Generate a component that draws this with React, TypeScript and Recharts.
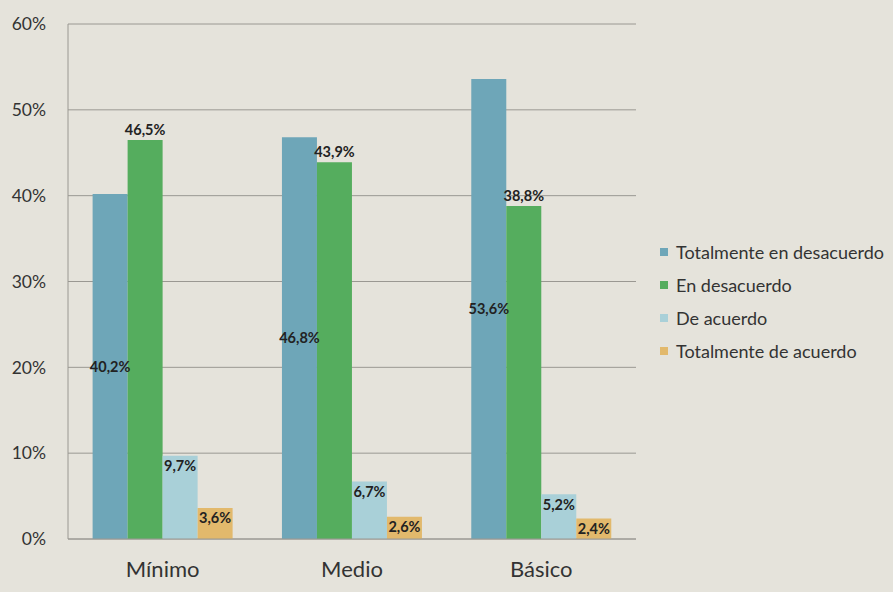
import { BarChart, Bar, XAxis, YAxis, CartesianGrid, LabelList } from "recharts";

const categories = ["Mínimo", "Medio", "Básico"];
const totalDesacuerdo = [40.2, 46.8, 53.6];
const enDesacuerdo = [46.5, 43.9, 38.8];
const deAcuerdo = [9.7, 6.7, 5.2];
const totalAcuerdo = [3.6, 2.6, 2.4];
const yTicks = [0, 10, 20, 30, 40, 50, 60];

const series = [
  { key: "td", name: "Totalmente en desacuerdo", color: "#6ea6b8", pos: "center" },
  { key: "ed", name: "En desacuerdo", color: "#55ad5e", pos: "top" },
  { key: "da", name: "De acuerdo", color: "#a9d0d8", pos: "insideTop" },
  { key: "ta", name: "Totalmente de acuerdo", color: "#e2b96c", pos: "insideTop" },
];

const data = categories.map((name, i) => ({
  name,
  td: totalDesacuerdo[i],
  ed: enDesacuerdo[i],
  da: deAcuerdo[i],
  ta: totalAcuerdo[i],
}));

const fmt = (v: number) => v.toFixed(1).replace(".", ",") + "%";

// legend drawn outside the chart so it doesn't eat plot space
function LegendBox() {
  return (
    <div
      style={{
        position: "absolute",
        left: 660,
        top: 235,
        fontFamily: "Lato, sans-serif",
        fontSize: 18,
        color: "#333",
      }}
    >
      {series.map((s) => (
        <div key={s.key} style={{ display: "flex", alignItems: "center", height: 33 }}>
          <span style={{ width: 8, height: 8, background: s.color, marginRight: 8 }} />
          {s.name}
        </div>
      ))}
    </div>
  );
}

export default function App() {
  return (
    <div style={{ position: "absolute", left: 0, top: 0, width: 893, height: 592, background: "#e5e3db" }}>
      <BarChart
        width={893}
        height={592}
        data={data}
        margin={{ top: 24, right: 257, left: 0, bottom: 0 }}
        barCategoryGap="13%"
        barGap={0}
        style={{ fontFamily: "Lato, sans-serif" }}
      >
        <CartesianGrid vertical={false} stroke="#9a9892" />
        <XAxis
          dataKey="name"
          height={53}
          axisLine={{ stroke: "#9a9892" }}
          tickLine={false}
          tick={{ fill: "#333", fontSize: 22 }}
          tickMargin={16}
        />
        <YAxis
          width={68}
          domain={[0, 60]}
          ticks={yTicks}
          tickFormatter={(v) => v + "%"}
          axisLine={{ stroke: "#9a9892" }}
          tickLine={false}
          tick={{ fill: "#333", fontSize: 17.5 }}
          tickMargin={16}
        />
        {series.map((s) => (
          <Bar key={s.key} dataKey={s.key} name={s.name} fill={s.color} isAnimationActive={false}>
            <LabelList
              dataKey={s.key}
              position={s.pos as any}
              formatter={(v: any) => fmt(Number(v))}
              style={{ fill: "#222", fontSize: 14.5, fontWeight: 700 }}
            />
          </Bar>
        ))}
      </BarChart>
      <LegendBox />
    </div>
  );
}
